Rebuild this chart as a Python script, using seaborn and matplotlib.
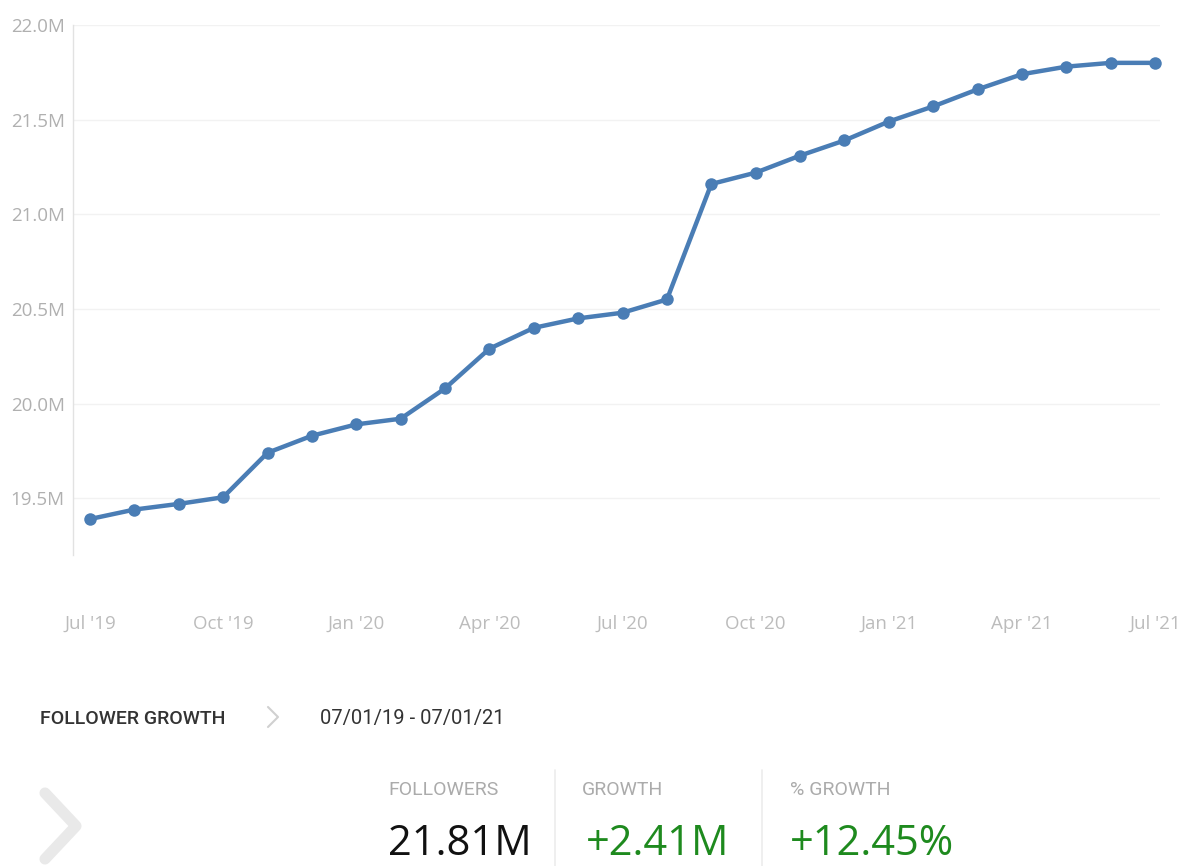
import matplotlib
matplotlib.use("Agg")
import matplotlib.pyplot as plt
import seaborn as sns
import pandas as pd
import numpy as np
from matplotlib.lines import Line2D

# ---- data ----
months = list(range(25))  # Jul '19 .. Jul '21, monthly
followers_m = [19.39, 19.44, 19.47, 19.505, 19.74, 19.83, 19.89, 19.92, 20.08, 20.29,
               20.40, 20.45, 20.48, 20.55, 21.16, 21.22, 21.31, 21.39, 21.49, 21.57,
               21.66, 21.74, 21.78, 21.80, 21.80]
tick_positions = [0, 3, 6, 9, 12, 15, 18, 21, 24]
tick_labels = ["Jul '19", "Oct '19", "Jan '20", "Apr '20", "Jul '20", "Oct '20",
               "Jan '21", "Apr '21", "Jul '21"]
y_ticks = [19.5, 20.0, 20.5, 21.0, 21.5, 22.0]
summary_labels = ["FOLLOWERS", "GROWTH", "% GROWTH"]
summary_values = ["21.81M", "+2.41M", "+12.45%"]
breadcrumb = ["FOLLOWER GROWTH", "07/01/19 - 07/01/21"]

df = pd.DataFrame({"month": months, "followers": followers_m})

sns.set_theme(style="white")
plt.rcParams["font.family"] = ["Open Sans", "DejaVu Sans"]

W, H = 1191, 866
fig = plt.figure(figsize=(W / 100, H / 100), dpi=100)
fig.patch.set_facecolor("white")

def fx(x):
    return x / W

def fy(y):
    return 1 - y / H

ax_left, ax_right, ax_top, ax_bottom = 73, 1160, 25, 555
ax = fig.add_axes([fx(ax_left), fy(ax_bottom), (ax_right - ax_left) / W, (ax_bottom - ax_top) / H])

line_color = "#4a7db5"
sns.lineplot(data=df, x="month", y="followers", ax=ax, color=line_color, linewidth=3.2,
             marker="o", markersize=9, markeredgewidth=0, clip_on=False)

ax.set_xlim(-0.383, 24.11)
ax.set_ylim(19.2, 22.0)
ax.set_yticks(y_ticks)
ax.set_yticklabels([f"{v:.1f}M" for v in y_ticks])
ax.set_xticks(tick_positions)
ax.set_xticklabels(tick_labels)
ax.set_xlabel("")
ax.set_ylabel("")

ax.grid(axis="y", color="#f2f2f2", linewidth=1.0)
ax.grid(axis="x", visible=False)
for s in ["top", "right", "bottom"]:
    ax.spines[s].set_visible(False)
ax.spines["left"].set_color("#e2e2e2")
ax.spines["left"].set_linewidth(1.0)
ax.tick_params(axis="y", length=0, pad=6, labelsize=13.5, labelcolor="#b0b0b0")
ax.tick_params(axis="x", length=0, pad=43, labelsize=13.5, labelcolor="#bcbcbc")
ax.set_axisbelow(True)

# ---- bottom summary panel ----
dark = "#333333"
fig.text(fx(40), fy(724), breadcrumb[0], fontsize=14, color=dark, family=["Roboto", "DejaVu Sans"],
         fontweight="medium", va="baseline", ha="left")
fig.text(fx(320), fy(724), breadcrumb[1], fontsize=14.5, color=dark, family=["Roboto", "DejaVu Sans"],
         va="baseline", ha="left")
# small chevron
fig.add_artist(Line2D([fx(268), fx(278), fx(268)], [fy(707), fy(717), fy(727)],
                      color="#d0d0d0", linewidth=1.5))
# big chevron
fig.add_artist(Line2D([fx(45), fx(76), fx(45)], [fy(793), fy(826), fy(859)],
                      color="#e9e9e9", linewidth=8, solid_capstyle="round"))

label_x = [388, 582, 790]
value_x = [388, 586, 790]
value_colors = ["#111111", "#1e8a1e", "#1e8a1e"]
for lx, vx, lab, val, col in zip(label_x, value_x, summary_labels, summary_values, value_colors):
    fig.text(fx(lx), fy(795), lab, fontsize=14, color="#ababab", family=["Roboto", "DejaVu Sans"],
             va="baseline", ha="left")
    fig.text(fx(vx), fy(865), val, fontsize=30, color=col, family=["Open Sans", "DejaVu Sans"],
             va="bottom", ha="left")

for sx in [555, 762]:
    fig.add_artist(Line2D([fx(sx), fx(sx)], [fy(770), fy(866)], color="#ececec", linewidth=1.2))

fig.savefig("out.png", dpi=100, facecolor="white")
